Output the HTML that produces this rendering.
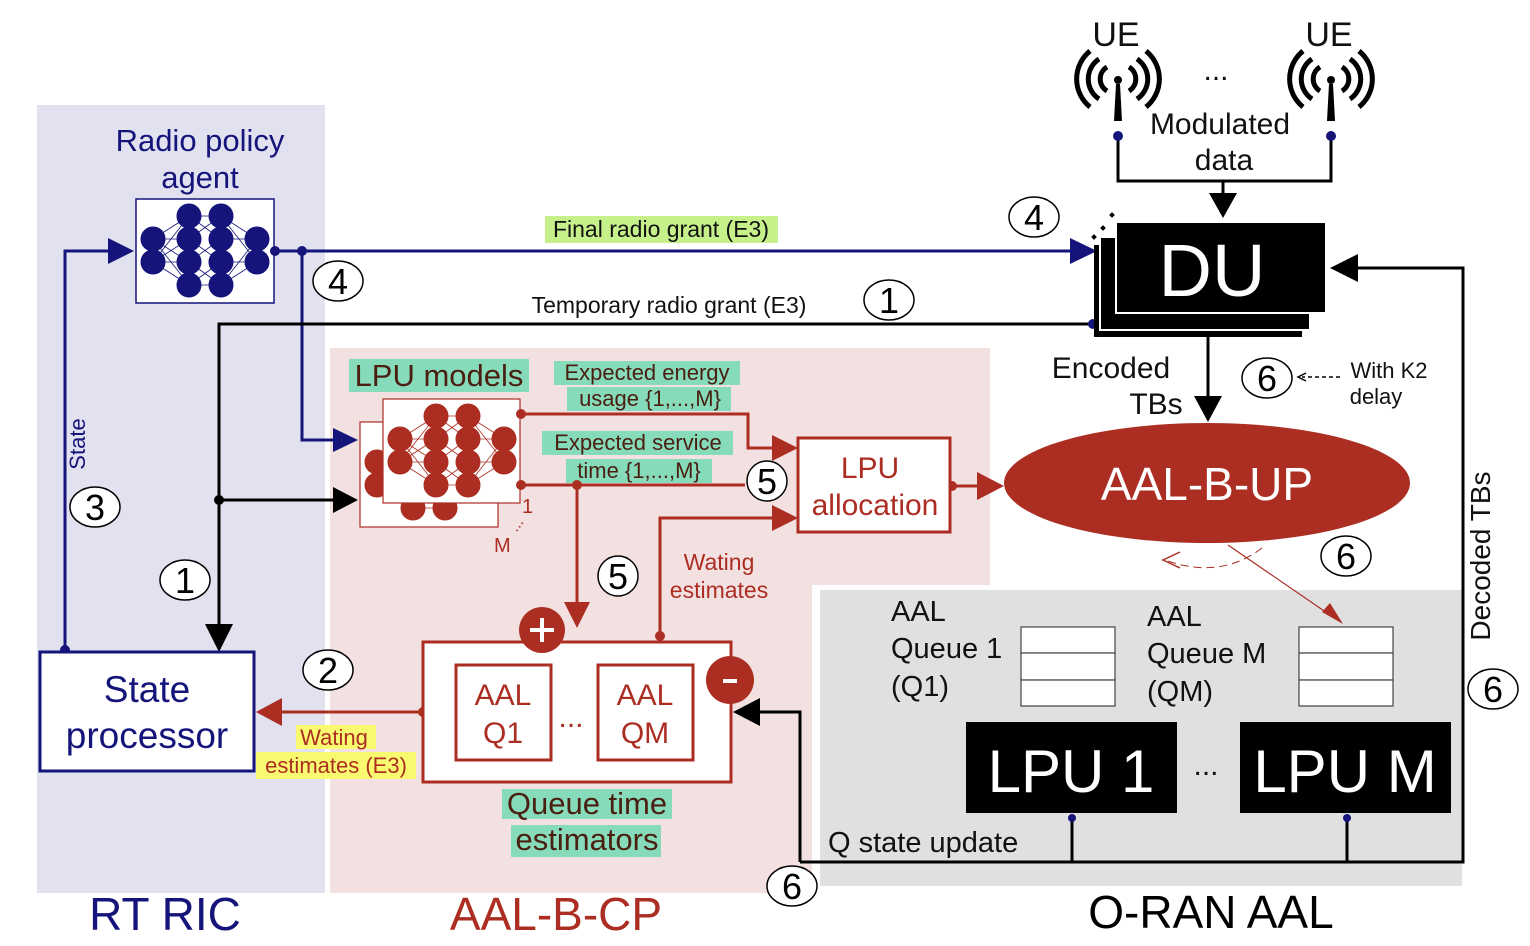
<!DOCTYPE html>
<html><head><meta charset="utf-8"><style>
html,body{margin:0;padding:0;background:#fff}
svg{display:block;font-family:"Liberation Sans",sans-serif}
</style></head><body>
<svg width="1530" height="946" viewBox="0 0 1530 946" xmlns="http://www.w3.org/2000/svg">
<defs>
<marker id="an" markerWidth="10" markerHeight="10" refX="9" refY="5" orient="auto" markerUnits="userSpaceOnUse" viewBox="0 0 10 10"><path d="M0,0 L10,5 L0,10z" fill="#14147a"/></marker>
<g id="nn">
 <g stroke-width="0.8">
  <path d="M17,40 L53,17 M17,40 L53,40 M17,40 L53,63 M17,40 L53,86 M17,63 L53,17 M17,63 L53,40 M17,63 L53,63 M17,63 L53,86 M53,17 L85,17 M53,17 L85,40 M53,40 L85,63 M53,63 L85,40 M53,86 L85,86 M53,86 L85,63 M53,40 L85,17 M53,63 L85,86 M85,17 L121,40 M85,40 L121,40 M85,63 L121,63 M85,86 L121,63 M85,17 L121,63 M85,86 L121,40"/>
 </g>
 <circle cx="17" cy="40" r="12"/><circle cx="17" cy="63" r="12"/>
 <circle cx="53" cy="17" r="12"/><circle cx="53" cy="40" r="12"/><circle cx="53" cy="63" r="12"/><circle cx="53" cy="86" r="12"/>
 <circle cx="85" cy="17" r="12"/><circle cx="85" cy="40" r="12"/><circle cx="85" cy="63" r="12"/><circle cx="85" cy="86" r="12"/>
 <circle cx="121" cy="40" r="12"/><circle cx="121" cy="63" r="12"/>
</g>
</defs>

<!-- backgrounds -->
<rect x="37" y="105" width="288" height="788" fill="#e1e1f0"/>
<path d="M330,348 H990 V585 H812 V893 H330z" fill="#f3e0e1"/>
<rect x="820" y="590" width="642" height="296" fill="#e0e0e0"/>

<!-- Radio policy agent -->
<text x="200" y="151" font-size="31" fill="#14147a" text-anchor="middle">Radio policy</text>
<text x="200" y="188" font-size="31" fill="#14147a" text-anchor="middle">agent</text>
<rect x="136" y="199" width="138" height="104" fill="#fff" stroke="#14147a" stroke-width="1.5"/>
<g fill="#14147a" stroke="#14147a" transform="translate(136,199)"><use href="#nn"/></g>

<!-- navy lines -->
<path d="M275,251 H1080" stroke="#14147a" stroke-width="3" fill="none"/>
<path d="M1070,238 L1097,251 L1070,264z" fill="#14147a"/>
<circle cx="275" cy="251" r="5" fill="#14147a"/><circle cx="302" cy="251" r="5" fill="#14147a"/>
<path d="M302,251 V440 H335" stroke="#14147a" stroke-width="3" fill="none"/>
<path d="M333,428 L358,440 L333,452z" fill="#14147a"/>
<path d="M65,650 V251 H110" stroke="#14147a" stroke-width="3" fill="none"/>
<path d="M108,238 L134,251 L108,264z" fill="#14147a"/>
<circle cx="65" cy="650" r="5" fill="#14147a"/>
<text x="88" y="447" font-size="22" fill="#14147a" text-anchor="middle" transform="rotate(-90 85 447)">State</text>

<rect x="545" y="216" width="233" height="27" fill="#c6f08a"/>
<text x="661" y="237" font-size="23" text-anchor="middle" fill="#111">Final radio grant (E3)</text>
<text x="669" y="313" font-size="23" text-anchor="middle" fill="#111">Temporary radio grant (E3)</text>

<!-- black temp grant lines -->
<path d="M1093,324 H219 V628" stroke="#000" stroke-width="3" fill="none"/>
<path d="M205,624 L219,652 L233,624z" fill="#000"/>
<circle cx="1093" cy="324" r="5" fill="#14147a"/>
<circle cx="219" cy="500" r="5" fill="#000"/>
<path d="M219,500 H335" stroke="#000" stroke-width="3"/>
<path d="M333,487 L358,500 L333,513z" fill="#000"/>

<!-- State processor -->
<rect x="40" y="652" width="214" height="119" fill="#fff" stroke="#14147a" stroke-width="3"/>
<text x="147" y="702" font-size="37" fill="#14147a" text-anchor="middle">State</text>
<text x="147" y="748" font-size="37" fill="#14147a" text-anchor="middle">processor</text>

<!-- LPU models -->
<rect x="349" y="359" width="180" height="33" fill="#86dbbb"/>
<text x="439" y="386" font-size="31" fill="#4a1e10" text-anchor="middle">LPU models</text>
<rect x="360" y="422" width="138" height="105" fill="#fff" stroke="#ac2d22" stroke-width="1.2"/>
<g fill="#ac2d22" stroke="#ac2d22" transform="translate(360,422)"><use href="#nn"/></g>
<rect x="383" y="399" width="137" height="104" fill="#fff" stroke="#ac2d22" stroke-width="1.2"/>
<g fill="#ac2d22" stroke="#ac2d22" transform="translate(383,399)"><use href="#nn"/></g>
<text x="522" y="513" font-size="20" fill="#ac2d22">1</text>
<text x="494" y="552" font-size="20" fill="#ac2d22">M</text>
<text x="512" y="532" font-size="16" fill="#ac2d22" transform="rotate(-55 515 528)">...</text>

<rect x="554" y="361" width="186" height="24" fill="#86dbbb"/>
<text x="647" y="380" font-size="22" fill="#4a1e10" text-anchor="middle">Expected energy</text>
<rect x="567" y="387" width="164" height="24" fill="#86dbbb"/>
<text x="650" y="406" font-size="22" fill="#4a1e10" text-anchor="middle">usage {1,...,M}</text>
<rect x="542" y="431" width="191" height="24" fill="#86dbbb"/>
<text x="638" y="450" font-size="22" fill="#4a1e10" text-anchor="middle">Expected service</text>
<rect x="566" y="459" width="146" height="24" fill="#86dbbb"/>
<text x="639" y="478" font-size="22" fill="#4a1e10" text-anchor="middle">time {1,...,M}</text>

<!-- red lines -->
<g stroke="#ac2d22" stroke-width="3" fill="none">
<path d="M521,414 H748 V448 H775"/>
<path d="M521,485 H745"/>
<path d="M577,485 V605"/>
<path d="M660,636 V518 H775"/>
<path d="M952,486 H980"/>
<path d="M423,712 H280"/>
</g>
<g fill="#ac2d22">
<circle cx="521" cy="414" r="5"/><circle cx="521" cy="485" r="5"/><circle cx="577" cy="485" r="5"/>
<circle cx="660" cy="636" r="5"/><circle cx="952" cy="486" r="5"/><circle cx="423" cy="712" r="5"/>
<path d="M772,435 L798,448 L772,461z"/>
<path d="M772,505 L798,518 L772,531z"/>
<path d="M977,472 L1004,486 L977,500z"/>
<path d="M564,602 L577,628 L590,602z"/>
<path d="M282,698 L256,712 L282,726z"/>
</g>
<text x="719" y="570" font-size="23" fill="#ac2d22" text-anchor="middle">Wating</text>
<text x="719" y="598" font-size="23" fill="#ac2d22" text-anchor="middle">estimates</text>

<!-- LPU allocation -->
<rect x="798" y="438" width="152" height="94" fill="#fff" stroke="#ac2d22" stroke-width="3"/>
<text x="870" y="478" font-size="30" fill="#ac2d22" text-anchor="middle">LPU</text>
<text x="875" y="515" font-size="30" fill="#ac2d22" text-anchor="middle">allocation</text>

<!-- AAL-B-UP -->
<ellipse cx="1207" cy="483" rx="203" ry="60" fill="#ac2d22"/>
<text x="1207" y="500" font-size="46" fill="#fff" text-anchor="middle">AAL-B-UP</text>
<path d="M1262,548 Q1220,580 1165,560" stroke="#ac2d22" stroke-width="1" stroke-dasharray="8,5" fill="none"/>
<path d="M1180,552 L1163,560 L1180,568" stroke="#ac2d22" stroke-width="1.5" fill="none"/>
<path d="M1228,545 L1330,615" stroke="#ac2d22" stroke-width="1.2"/>
<path d="M1322,612 L1343,624 L1330,603z" fill="#ac2d22"/>

<!-- Queue time estimators -->
<rect x="423" y="642" width="308" height="140" fill="#fff" stroke="#ac2d22" stroke-width="3"/>
<rect x="456" y="665" width="95" height="95" fill="#fff" stroke="#ac2d22" stroke-width="3"/>
<rect x="598" y="665" width="95" height="95" fill="#fff" stroke="#ac2d22" stroke-width="3"/>
<text x="503" y="705" font-size="30" fill="#ac2d22" text-anchor="middle">AAL</text>
<text x="503" y="743" font-size="30" fill="#ac2d22" text-anchor="middle">Q1</text>
<text x="645" y="705" font-size="30" fill="#ac2d22" text-anchor="middle">AAL</text>
<text x="645" y="743" font-size="30" fill="#ac2d22" text-anchor="middle">QM</text>
<text x="571" y="727" font-size="30" fill="#ac2d22" text-anchor="middle">...</text>
<circle cx="542" cy="630" r="23" fill="#ac2d22"/>
<path d="M530,630 H554 M542,618 V642" stroke="#fff" stroke-width="4"/>
<circle cx="730" cy="680" r="24" fill="#ac2d22"/>
<path d="M723,681 H737" stroke="#fff" stroke-width="4"/>
<rect x="502" y="789" width="170" height="30" fill="#86dbbb"/>
<text x="587" y="814" font-size="31" fill="#4a1e10" text-anchor="middle">Queue time</text>
<rect x="511" y="825" width="150" height="32" fill="#86dbbb"/>
<text x="587" y="850" font-size="31" fill="#4a1e10" text-anchor="middle">estimators</text>

<rect x="296" y="725" width="80" height="24" fill="#fafa70"/>
<text x="334" y="745" font-size="22" fill="#ac2d22" text-anchor="middle">Wating</text>
<rect x="256" y="752" width="160" height="27" fill="#fafa70"/>
<text x="336" y="773" font-size="22" fill="#ac2d22" text-anchor="middle">estimates (E3)</text>

<!-- gray region -->
<text x="891" y="621" font-size="29" fill="#111">AAL</text>
<text x="891" y="658" font-size="29" fill="#111">Queue 1</text>
<text x="891" y="696" font-size="29" fill="#111">(Q1)</text>
<text x="1147" y="626" font-size="29" fill="#111">AAL</text>
<text x="1147" y="663" font-size="29" fill="#111">Queue M</text>
<text x="1147" y="701" font-size="29" fill="#111">(QM)</text>
<g fill="#fff" stroke="#444" stroke-width="1.2">
<rect x="1021" y="627" width="94" height="26"/><rect x="1021" y="653" width="94" height="27"/><rect x="1021" y="680" width="94" height="26"/>
<rect x="1299" y="627" width="94" height="26"/><rect x="1299" y="653" width="94" height="27"/><rect x="1299" y="680" width="94" height="26"/>
</g>
<rect x="966" y="722" width="211" height="91" fill="#000"/>
<text x="1071" y="792" font-size="60" fill="#fff" text-anchor="middle">LPU 1</text>
<rect x="1240" y="722" width="211" height="91" fill="#000"/>
<text x="1345" y="792" font-size="60" fill="#fff" text-anchor="middle">LPU M</text>
<text x="1206" y="775" font-size="30" fill="#111" text-anchor="middle">...</text>
<text x="828" y="852" font-size="29" fill="#111">Q state update</text>

<!-- black feedback lines -->
<g stroke="#000" stroke-width="3" fill="none">
<path d="M1072,815 V862 M1347,815 V862"/>
<path d="M800,862 H1463 V268 H1355"/>
<path d="M800,862 V712 H758"/>
<path d="M1208,337 V398"/>
<path d="M1118,136 V181 H1331 V136"/>
<path d="M1223,181 V196"/>
</g>
<circle cx="1072" cy="818" r="4" fill="#14147a"/><circle cx="1347" cy="818" r="4" fill="#14147a"/>
<path d="M1358,254 L1330,268 L1358,282z" fill="#000"/>
<path d="M760,698 L733,712 L760,726z" fill="#000"/>
<path d="M1194,396 L1208,422 L1222,396z" fill="#000"/>
<path d="M1209,193 L1223,218 L1237,193z" fill="#000"/>
<text x="1494" y="560" font-size="28" fill="#111" text-anchor="middle" transform="rotate(-90 1490 560)">Decoded TBs</text>

<!-- DU -->
<rect x="1094" y="245" width="208" height="92" fill="#000"/>
<rect x="1100" y="237" width="210" height="93" fill="#000" stroke="#fff" stroke-width="2"/>
<rect x="1116" y="222" width="210" height="91" fill="#000" stroke="#fff" stroke-width="2"/>
<text x="1212" y="296" font-size="74" fill="#fff" text-anchor="middle">DU</text>
<g fill="#000"><rect x="1092" y="235" width="4" height="4" transform="rotate(45 1094 237)"/><rect x="1101" y="226" width="4" height="4" transform="rotate(45 1103 228)"/><rect x="1110" y="213" width="4" height="4" transform="rotate(45 1112 215)"/></g>
<text x="1111" y="378" font-size="30" fill="#111" text-anchor="middle">Encoded</text>
<text x="1156" y="414" font-size="30" fill="#111" text-anchor="middle">TBs</text>
<text x="1389" y="378" font-size="22" fill="#111" text-anchor="middle">With K2</text>
<text x="1376" y="404" font-size="22" fill="#111" text-anchor="middle">delay</text>
<path d="M1340,377 H1302" stroke="#000" stroke-width="1.5" stroke-dasharray="4,3"/>
<path d="M1306,373 L1298,377 L1306,381" stroke="#000" stroke-width="1.5" fill="none"/>

<!-- UEs -->
<g stroke="#000" stroke-width="5" fill="none">
<path d="M1107,67 A14,14 0 0 0 1107,91 M1129,67 A14,14 0 0 1 1129,91"/>
<path d="M1099,59 A24,24 0 0 0 1099,99 M1137,59 A24,24 0 0 1 1137,99"/>
<path d="M1090,51 A36,36 0 0 0 1090,107 M1146,51 A36,36 0 0 1 1146,107"/>
<path d="M1320,67 A14,14 0 0 0 1320,91 M1342,67 A14,14 0 0 1 1342,91"/>
<path d="M1312,59 A24,24 0 0 0 1312,99 M1350,59 A24,24 0 0 1 1350,99"/>
<path d="M1303,51 A36,36 0 0 0 1303,107 M1359,51 A36,36 0 0 1 1359,107"/>
</g>
<circle cx="1118" cy="80" r="4"/><circle cx="1331" cy="80" r="4"/>
<path d="M1116,84 L1114,121 H1122 L1120,84z M1329,84 L1327,121 H1335 L1333,84z" fill="#000"/>
<circle cx="1118" cy="136" r="5" fill="#14147a"/><circle cx="1331" cy="136" r="5" fill="#14147a"/>
<text x="1116" y="46" font-size="34" fill="#111" text-anchor="middle">UE</text>
<text x="1329" y="46" font-size="34" fill="#111" text-anchor="middle">UE</text>
<text x="1216" y="80" font-size="30" fill="#111" text-anchor="middle">...</text>
<text x="1220" y="134" font-size="30" fill="#111" text-anchor="middle">Modulated</text>
<text x="1224" y="170" font-size="30" fill="#111" text-anchor="middle">data</text>

<!-- numbered circles -->
<g fill="#fff" stroke="#000" stroke-width="1.5">
<ellipse cx="1034" cy="217" rx="25" ry="20"/>
<ellipse cx="338" cy="281" rx="25" ry="20"/>
<ellipse cx="889" cy="300" rx="25" ry="20"/>
<ellipse cx="95" cy="507" rx="25" ry="20"/>
<ellipse cx="185" cy="580" rx="25" ry="20"/>
<ellipse cx="328" cy="670" rx="25" ry="20"/>
<ellipse cx="767" cy="481" rx="20" ry="20"/>
<ellipse cx="618" cy="576" rx="20" ry="20"/>
<ellipse cx="1267" cy="378" rx="25" ry="20"/>
<ellipse cx="1346" cy="556" rx="25" ry="20"/>
<ellipse cx="1493" cy="689" rx="25" ry="20"/>
<ellipse cx="792" cy="886" rx="25" ry="20"/>
</g>
<g font-size="36" fill="#000" text-anchor="middle">
<text x="1034" y="230">4</text><text x="338" y="294">4</text><text x="889" y="313">1</text>
<text x="95" y="520">3</text><text x="185" y="593">1</text><text x="328" y="683">2</text>
<text x="767" y="494">5</text><text x="618" y="589">5</text><text x="1267" y="391">6</text>
<text x="1346" y="569">6</text><text x="1493" y="702">6</text><text x="792" y="899">6</text>
</g>

<!-- region titles -->
<text x="165" y="930" font-size="46" fill="#14147a" text-anchor="middle">RT RIC</text>
<text x="556" y="930" font-size="46" fill="#ac2d22" text-anchor="middle">AAL-B-CP</text>
<text x="1211" y="928" font-size="46" fill="#000" text-anchor="middle">O-RAN AAL</text>
</svg>
</body></html>
